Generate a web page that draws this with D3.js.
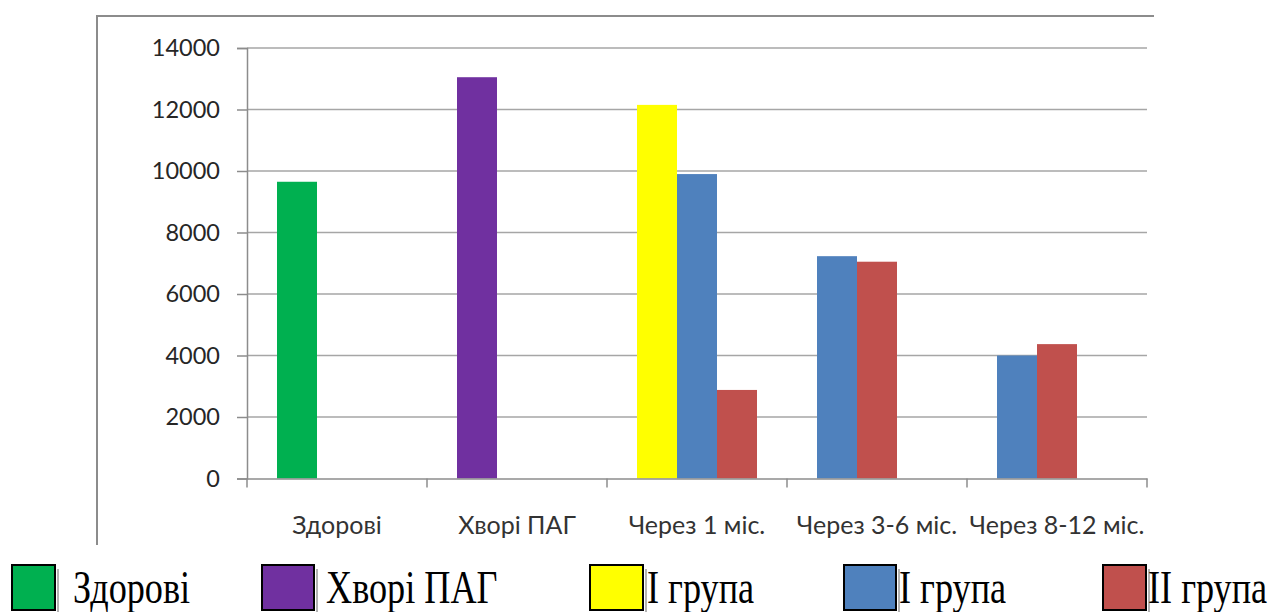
<!DOCTYPE html>
<html>
<head>
<meta charset="utf-8">
<script src="https://cdn.jsdelivr.net/npm/d3@7"></script>
<style>
  html, body { margin: 0; padding: 0; background: #fff; }
  svg { display: block; }
</style>
</head>
<body>
<svg id="chart" width="1271" height="612"></svg>
<script>
// Categories along the x axis
const categories = ["Здорові", "Хворі ПАГ", "Через 1 міс.", "Через 3-6 міс.", "Через 8-12 міс."];

// Reference groups (each point has its own colour)
const referenceValues = [9650, 13050, 12150, null, null];
const referenceColors = ["#00b050", "#7030a0", "#ffff00", null, null];

// Treatment groups
const groupOneValues = [null, null, 9900, 7230, 4000];
const groupTwoValues = [null, null, 2880, 7050, 4370];
const groupOneColor = "#4f81bd";
const groupTwoColor = "#c0504d";

// Y axis ticks
const yTicks = [0, 2000, 4000, 6000, 8000, 10000, 12000, 14000];

// Legend entries
const legendLabels = ["Здорові", "Хворі ПАГ", "І група", "І група", "ІІ група"];
const legendColors = ["#00b050", "#7030a0", "#ffff00", "#4f81bd", "#c0504d"];

// Legend layout (box left edge, box width, text left edge)
const legendBoxX = [11, 261, 589, 843, 1102];
const legendBoxW = [45, 54, 55, 54, 45];
const legendTextX = [73, 326, 647, 899, 1148];

const svg = d3.select("#chart");

const plot = { left: 247, right: 1147, top: 48, bottom: 478.5 };

const x = d3.scaleBand()
  .domain(categories)
  .range([plot.left, plot.right])
  .paddingInner(0)
  .paddingOuter(0);

// Three bar slots per category
const slot = d3.scaleBand()
  .domain([0, 1, 2])
  .range([0, x.bandwidth()])
  .paddingInner(0)
  .paddingOuter(0.75);

const y = d3.scaleLinear()
  .domain([0, 14000])
  .range([plot.bottom, plot.top]);

// Outer frame (left and top edges)
svg.append("path")
  .attr("d", "M97,545 L97,16 L1154,16")
  .attr("fill", "none")
  .attr("stroke", "#8c8c8c")
  .attr("stroke-width", 2);

// Horizontal gridlines
svg.append("g")
  .selectAll("line")
  .data(yTicks.filter(d => d > 0))
  .join("line")
  .attr("x1", plot.left)
  .attr("x2", plot.right)
  .attr("y1", d => y(d))
  .attr("y2", d => y(d))
  .attr("stroke", "#a6a6a6")
  .attr("stroke-width", 1.5);

// Y axis
const yAxis = d3.axisLeft(y)
  .tickValues(yTicks)
  .tickSize(10)
  .tickPadding(17)
  .tickFormat(d3.format("d"));

const gy = svg.append("g")
  .attr("transform", `translate(${plot.left},0)`)
  .call(yAxis);
gy.select(".domain").attr("stroke", "#8c8c8c").attr("stroke-width", 1.5);
gy.selectAll(".tick line").attr("stroke", "#8c8c8c").attr("stroke-width", 1.5);
gy.selectAll(".tick text")
  .attr("font-family", "Lato, sans-serif")
  .attr("font-size", 23.5)
  .attr("fill", "#262626");

// Bars: the values present in a category fill its slots from the left
const bars = [];
categories.forEach((c, i) => {
  const present = [];
  if (referenceValues[i] != null) present.push({ value: referenceValues[i], color: referenceColors[i] });
  if (groupOneValues[i] != null) present.push({ value: groupOneValues[i], color: groupOneColor });
  if (groupTwoValues[i] != null) present.push({ value: groupTwoValues[i], color: groupTwoColor });
  present.forEach((b, k) => bars.push({ cat: c, slot: k, value: b.value, color: b.color }));
});

svg.append("g")
  .selectAll("rect")
  .data(bars)
  .join("rect")
  .attr("x", d => x(d.cat) + slot(d.slot))
  .attr("width", slot.bandwidth())
  .attr("y", d => y(d.value))
  .attr("height", d => y(0) - y(d.value))
  .attr("fill", d => d.color);

// X axis
const xAxis = d3.axisBottom(x).tickSize(0).tickPadding(38);
const gx = svg.append("g")
  .attr("transform", `translate(0,${plot.bottom})`)
  .call(xAxis);
gx.select(".domain").attr("stroke", "#8c8c8c").attr("stroke-width", 1.5);
gx.selectAll(".tick text")
  .attr("font-family", "Lato, sans-serif")
  .attr("font-size", 25)
  .attr("fill", "#333");

// Category boundary tick marks
const boundaries = categories.map(c => x(c)).concat([plot.right]);
gx.append("g")
  .selectAll("line")
  .data(boundaries)
  .join("line")
  .attr("x1", d => d)
  .attr("x2", d => d)
  .attr("y1", 0)
  .attr("y2", 9)
  .attr("stroke", "#8c8c8c")
  .attr("stroke-width", 1.5);

// Legend
const legend = svg.append("g");
const items = legend.selectAll("g")
  .data(legendLabels.map((l, i) => ({
    label: l, color: legendColors[i],
    bx: legendBoxX[i], bw: legendBoxW[i], tx: legendTextX[i]
  })))
  .join("g");

items.append("line")
  .attr("x1", d => d.bx + d.bw + 2)
  .attr("x2", d => d.bx + d.bw + 2)
  .attr("y1", 569)
  .attr("y2", 612)
  .attr("stroke", "#9a9a9a")
  .attr("stroke-width", 1.5);

items.append("rect")
  .attr("x", d => d.bx + 1)
  .attr("y", 565)
  .attr("width", d => d.bw - 2)
  .attr("height", 45)
  .attr("fill", d => d.color)
  .attr("stroke", "#000")
  .attr("stroke-width", 2);

items.append("text")
  .attr("transform", d => `translate(${d.tx},603) scale(0.77,1)`)
  .attr("font-family", "'Liberation Serif', 'Times New Roman', serif")
  .attr("font-size", 47)
  .attr("fill", "#000")
  .text(d => d.label);
</script>
</body>
</html>
